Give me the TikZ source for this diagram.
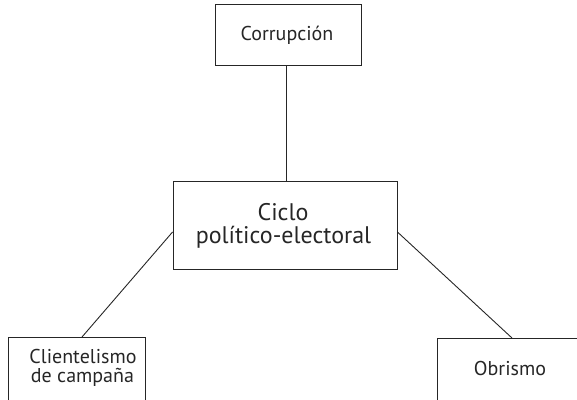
\documentclass[tikz,border=0pt]{standalone}
\usepackage{fontspec}
\setmainfont{PT Sans}
\begin{document}
\begin{tikzpicture}[x=1pt,y=-1pt,
  box/.style={draw=black!85,line width=0.9pt,rectangle,inner sep=0pt,align=center},
  lbl/.style={inner sep=0pt,anchor=base,text=black!85},
  conn/.style={draw=black!85,line width=0.9pt},
  small/.style={font=\fontsize{20}{19}\selectfont},
  big/.style={font=\fontsize{24}{23}\selectfont}]
\useasboundingbox (0,0) rectangle (577,399);
\clip (0,0) rectangle (577,399);
% boxes
\node[box,minimum width=146pt,minimum height=61pt] (corr) at (288,35) {};
\node[box,minimum width=224pt,minimum height=88pt] (ciclo) at (285,225) {};
\node[box,minimum width=137pt,minimum height=80pt,anchor=north] (clien) at (76.5,337) {};
\node[box,minimum width=148pt,minimum height=80pt,anchor=north] (obr) at (511,338) {};
% texts
\node[lbl,small] (corrt) at (287,40) {Corrupción};
\node[lbl,big] (ciclot1) at (283,220) {Ciclo};
\node[lbl,big] (ciclot2) at (283.5,243) {político-electoral};
\node[lbl,small] (cliet1) at (83,363) {Clientelismo};
\node[lbl,small] (cliet2) at (82.5,382) {de campaña};
\node[lbl,small] (obrt) at (510,375) {Obrismo};
% connectors
\draw[conn] ([xshift=-2pt]corr.south) -- ([xshift=-2pt]corr.south |- ciclo.north);
\draw[conn] ([yshift=-7pt]ciclo.west) -- ([xshift=5.5pt]clien.north);
\draw[conn] ([yshift=-7pt]ciclo.east) -- ([xshift=1pt]obr.north);
\end{tikzpicture}
\end{document}
